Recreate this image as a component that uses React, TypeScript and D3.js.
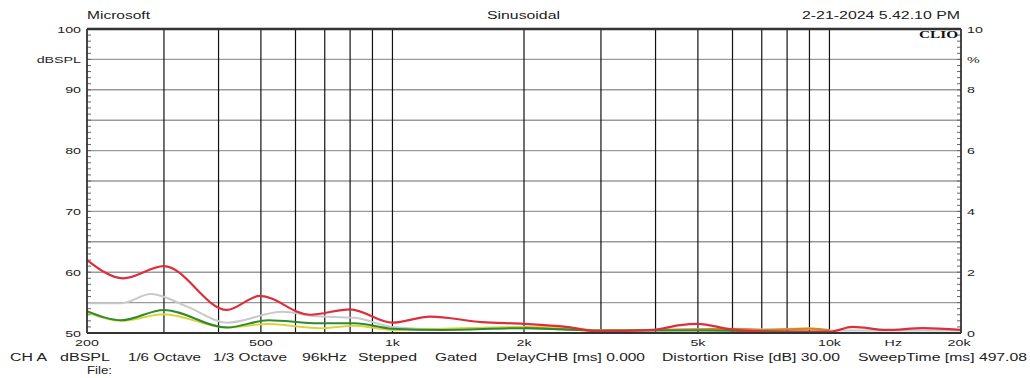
import React from 'react';
import * as d3 from 'd3';

// frequency response / distortion curves
const redFreq = [200, 242, 300, 418, 497, 647, 800, 1000, 1220, 1600, 2000, 2500, 2950, 3950, 4550, 4980, 5980, 7300, 10000, 11300, 13500, 16400, 20000];
const redVal = [62.0, 59.0, 61.0, 53.8, 56.1, 53.0, 53.9, 51.7, 52.7, 51.8, 51.5, 51.0, 50.3, 50.5, 51.3, 51.5, 50.6, 50.2, 50.2, 51.0, 50.5, 50.8, 50.5];

const grayFreq = [200, 240, 280, 340, 418, 560, 660, 820, 1000, 1300, 2000, 3000, 5000, 7000, 9000, 10000, 13500, 20000];
const grayVal = [54.9, 54.9, 56.4, 54.3, 51.7, 53.5, 52.8, 52.5, 51.0, 50.6, 50.8, 50.4, 50.6, 50.6, 50.7, 50.4, 50.4, 50.4];

const greenFreq = [200, 240, 300, 418, 520, 680, 820, 1000, 1300, 2000, 3000, 5000, 7000, 10000];
const greenVal = [53.6, 52.1, 53.8, 50.9, 52.1, 51.6, 51.6, 50.7, 50.5, 50.8, 50.4, 50.4, 50.3, 50.2];

const yellowFreq = [200, 240, 300, 418, 520, 680, 820, 1000, 1300, 2000, 2500, 3000, 5000, 7000, 9000, 10000];
const yellowVal = [53.4, 52.0, 53.1, 50.9, 51.5, 50.8, 51.2, 50.5, 50.7, 51.0, 50.9, 50.4, 50.5, 50.5, 50.8, 50.4];

const orangeFreq = [2000, 3000, 4000, 5000, 6000, 7000, 8000, 9000, 10000];
const orangeVal = [50.9, 50.4, 50.5, 50.6, 50.7, 50.5, 50.6, 50.7, 50.5];

const series = [
  { name: 'gray', color: '#c9c9c9', f: grayFreq, v: grayVal },
  { name: 'yellow', color: '#d6d63c', f: yellowFreq, v: yellowVal },
  { name: 'orange', color: '#d9822b', f: orangeFreq, v: orangeVal },
  { name: 'green', color: '#2f8a2f', f: greenFreq, v: greenVal },
  { name: 'red', color: '#dc2f3c', f: redFreq, v: redVal },
];

const gridFreqs = [300, 400, 500, 600, 700, 800, 900, 1000, 2000, 3000, 4000, 5000, 6000, 7000, 8000, 9000, 10000];
const xTickLabels = [
  { f: 200, label: '200' },
  { f: 500, label: '500' },
  { f: 1000, label: '1k' },
  { f: 2000, label: '2k' },
  { f: 5000, label: '5k' },
  { f: 10000, label: '10k' },
  { f: 14000, label: 'Hz' },
  { f: 19800, label: '20k' },
];
const leftTicks = [100, 90, 80, 70, 60, 50];
const rightTicks = [10, 8, 6, 4, 2, 0];

const infoItems = [
  { text: 'CH A', x: 10, w: 37 },
  { text: 'dBSPL', x: 60, w: 50 },
  { text: '1/6 Octave', x: 128, w: 73 },
  { text: '1/3 Octave', x: 213, w: 74 },
  { text: '96kHz', x: 302, w: 45 },
  { text: 'Stepped', x: 358, w: 59 },
  { text: 'Gated', x: 435, w: 42 },
  { text: 'DelayCHB [ms] 0.000', x: 496, w: 149 },
  { text: 'Distortion Rise [dB] 30.00', x: 662, w: 178 },
  { text: 'SweepTime [ms] 497.08', x: 858, w: 169 },
];

const W = 1030;
const H = 378;
const left = 87, right = 961, top = 29, bottom = 333;

const App = () => {
  const x = d3.scaleLog().domain([200, 20000]).range([left, right]);
  const y = d3.scaleLinear().domain([50, 100]).range([bottom, top]);
  const yr = d3.scaleLinear().domain([0, 10]).range([bottom, top]);

  const line = d3
    .line<[number, number]>()
    .x((d) => x(d[0]))
    .y((d) => y(d[1]))
    .curve(d3.curveMonotoneX);

  const font = 'Arial, "Liberation Sans", sans-serif';
  const txt = '#222';

  return (
    <svg
      width={W}
      height={H}
      style={{ position: 'absolute', left: 0, top: 0, background: '#fff' }}
      fontFamily={font}
    >
      <defs>
        <clipPath id="plot">
          <rect x={left} y={top} width={right - left} height={bottom - top} />
        </clipPath>
      </defs>

      {/* header */}
      <text x={87} y={18.5} fontSize={10} fill={txt} textLength={63} lengthAdjust="spacingAndGlyphs">Microsoft</text>
      <text x={487} y={18.5} fontSize={10} fill={txt} textLength={73} lengthAdjust="spacingAndGlyphs">Sinusoidal</text>
      <text x={802} y={18.5} fontSize={10} fill={txt} textLength={158} lengthAdjust="spacingAndGlyphs">2-21-2024 5.42.10 PM</text>

      {/* horizontal grid */}
      {d3.range(55, 100, 5).map((v) => (
        <line key={'h' + v} x1={left} x2={right} y1={y(v)} y2={y(v)} stroke="#9a9a9a" strokeWidth={1.4} />
      ))}
      {/* vertical grid */}
      {gridFreqs.map((f) => (
        <line key={'v' + f} x1={x(f)} x2={x(f)} y1={top} y2={bottom} stroke="#111" strokeWidth={1.2} />
      ))}

      {/* minor ticks */}
      {d3.range(51, 100, 1).map((v) => (
        <line key={'lt' + v} x1={left} x2={left + 4} y1={y(v)} y2={y(v)} stroke="#666" strokeWidth={1} />
      ))}
      {d3.range(0.2, 10, 0.2).map((v, i) => (
        <line key={'rt' + i} x1={right - 4} x2={right} y1={yr(v)} y2={yr(v)} stroke="#666" strokeWidth={1} />
      ))}

      {/* curves */}
      <g clipPath="url(#plot)">
        {series.map((s) => (
          <path
            key={s.name}
            d={line(s.f.map((f, i) => [f, s.v[i]] as [number, number])) || ''}
            fill="none"
            stroke={s.color}
            strokeWidth={s.name === 'red' ? 2.2 : 2}
            strokeLinejoin="round"
          />
        ))}
      </g>

      {/* frame */}
      <line x1={left} x2={right} y1={top} y2={top} stroke="#333" strokeWidth={2.5} />
      <line x1={left} x2={right} y1={bottom} y2={bottom} stroke="#333" strokeWidth={1.8} />
      <line x1={left} x2={left} y1={top} y2={bottom} stroke="#333" strokeWidth={1.8} />
      <line x1={right} x2={right} y1={top} y2={bottom} stroke="#333" strokeWidth={1.8} />

      <text x={958} y={38} fontSize={10} fontWeight="bold" fontFamily='"Liberation Serif", serif' textAnchor="end" fill="#111" textLength={39} lengthAdjust="spacingAndGlyphs">CLIO</text>

      {/* left axis labels */}
      {leftTicks.map((v) => (
        <text key={'ll' + v} transform={`translate(81,${y(v) + 3.5}) scale(1.5,1)`} textAnchor="end" fontSize={9.5} fill={txt}>{v}</text>
      ))}
      <text transform={`translate(81,${y(95) + 3.5}) scale(1.5,1)`} textAnchor="end" fontSize={9.5} fill={txt}>dBSPL</text>

      {/* right axis labels */}
      {rightTicks.map((v) => (
        <text key={'rl' + v} transform={`translate(967,${yr(v) + 3.5}) scale(1.5,1)`} fontSize={9.5} fill={txt}>{v}</text>
      ))}
      <text transform={`translate(967,${yr(9) + 3.5}) scale(1.5,1)`} fontSize={9.5} fill={txt}>%</text>

      {/* x labels */}
      {xTickLabels.map((t) => (
        <text key={'xl' + t.label} transform={`translate(${x(t.f)},346) scale(1.5,1)`} textAnchor="middle" fontSize={9.5} fill={txt}>{t.label}</text>
      ))}

      {/* footer */}
      {infoItems.map((it) => (
        <text key={it.text} x={it.x} y={361} fontSize={10} fill={txt} textLength={it.w} lengthAdjust="spacingAndGlyphs">{it.text}</text>
      ))}
      <text x={87} y={374} fontSize={10} fill={txt} textLength={25} lengthAdjust="spacingAndGlyphs">File:</text>
    </svg>
  );
};

export default App;
